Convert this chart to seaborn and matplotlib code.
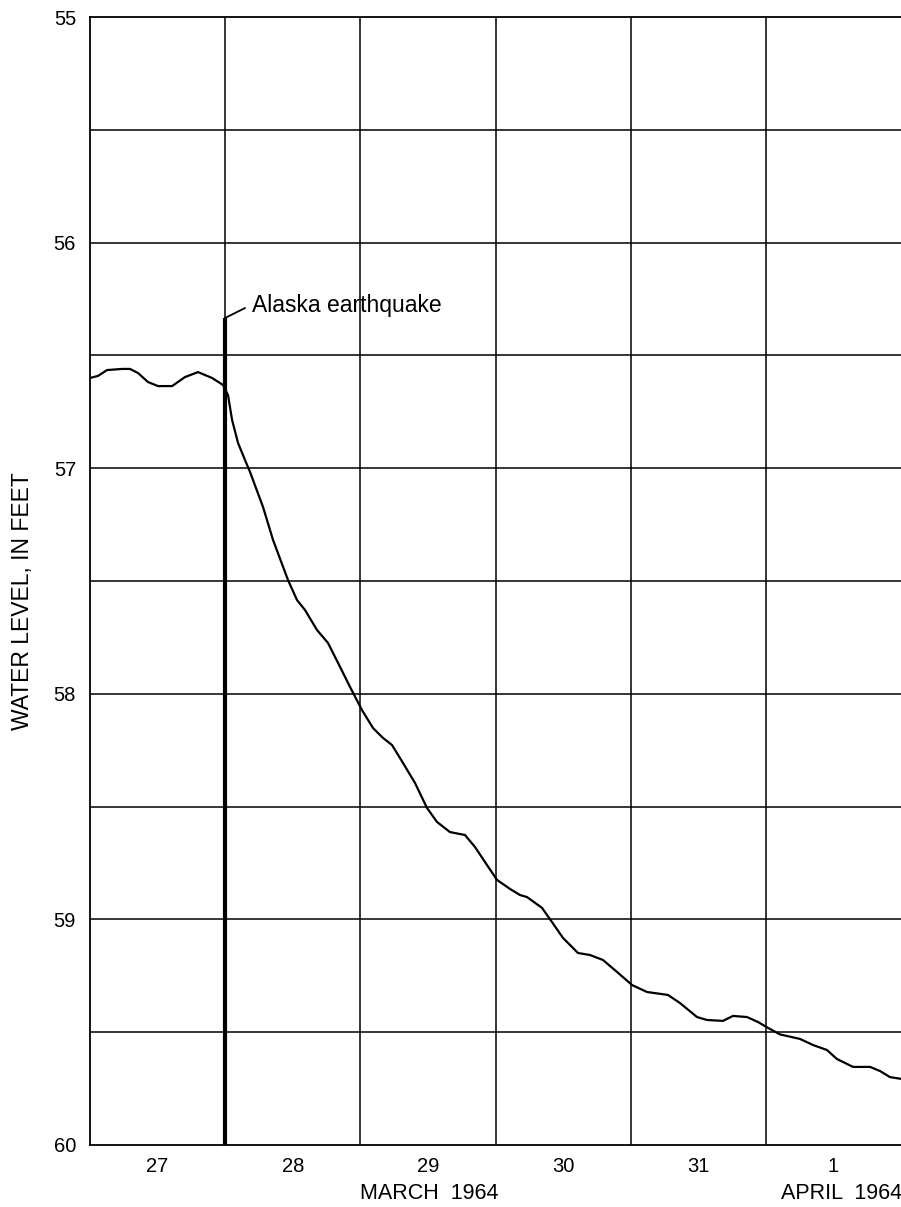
import matplotlib
matplotlib.use("Agg")
import matplotlib.pyplot as plt
import seaborn as sns
import pandas as pd
import numpy as np

# Hydrograph: elapsed time in days from 00h March 27, 1964; water level below datum, feet
days = [0.000, 0.059, 0.126, 0.237, 0.296, 0.355, 0.429, 0.503, 0.607, 0.703,
        0.799, 0.903, 0.984, 1.021, 1.051, 1.095, 1.147, 1.184, 1.280, 1.354,
        1.465, 1.531, 1.591, 1.679, 1.761, 1.850, 1.924, 2.012, 2.094, 2.168,
        2.234, 2.316, 2.404, 2.493, 2.567, 2.663, 2.774, 2.848, 2.937, 3.011,
        3.107, 3.181, 3.233, 3.344, 3.418, 3.499, 3.610, 3.699, 3.795, 3.899,
        4.010, 4.121, 4.276, 4.365, 4.491, 4.565, 4.683, 4.757, 4.861, 4.942,
        5.016, 5.105, 5.253, 5.349, 5.452, 5.526, 5.645, 5.771, 5.844, 5.918,
        6.000]
water_level = [56.600, 56.591, 56.565, 56.560, 56.560, 56.578, 56.618, 56.636, 56.636, 56.596,
               56.574, 56.600, 56.631, 56.676, 56.786, 56.888, 56.964, 57.017, 57.172, 57.318,
               57.496, 57.584, 57.629, 57.717, 57.775, 57.881, 57.970, 58.072, 58.152, 58.196,
               58.227, 58.307, 58.395, 58.506, 58.568, 58.613, 58.626, 58.679, 58.759, 58.825,
               58.865, 58.892, 58.901, 58.949, 59.012, 59.082, 59.149, 59.158, 59.180, 59.233,
               59.291, 59.322, 59.335, 59.371, 59.433, 59.446, 59.450, 59.428, 59.433, 59.455,
               59.481, 59.510, 59.530, 59.557, 59.579, 59.619, 59.654, 59.654, 59.672, 59.699,
               59.707]

day_labels = ["27", "28", "29", "30", "31", "1"]
level_ticks = [55, 56, 57, 58, 59, 60]
quake_day = 1.0
quake_top = 56.334

df = pd.DataFrame({"day": days, "level": water_level})

sns.set_theme(style="white")
plt.rcParams["font.family"] = ["Liberation Sans", "DejaVu Sans"]

fig = plt.figure(figsize=(9.01, 12.07), dpi=100)
ax = fig.add_axes([0.0999, 0.0514, 0.9001, 0.9345])

# grid: day boundaries and half-foot intervals
for d in range(1, 6):
    ax.axvline(d, color="black", lw=1.1, zorder=1)
for y in np.arange(55.5, 60.0, 0.5):
    ax.axhline(y, color="black", lw=1.1, zorder=1)

sns.lineplot(data=df, x="day", y="level", ax=ax, color="black", lw=1.6,
             zorder=3, legend=False)

# earthquake marker
ax.plot([quake_day, quake_day], [quake_top, 60], color="black", lw=3.0, zorder=4,
        solid_capstyle="butt")
ax.plot([quake_day, 1.147], [quake_top, 56.29], color="black", lw=1.3, zorder=4)
ax.text(1.195, 56.28, "Alaska earthquake", fontsize=16.5, va="center", ha="left",
        color="black")

ax.set_xlim(0, 6)
ax.set_ylim(60, 55)
ax.set_xticks([i + 0.5 for i in range(6)])
ax.set_xticklabels(day_labels, fontsize=14.5)
ax.set_yticks(level_ticks)
ax.set_yticklabels([str(v) for v in level_ticks], fontsize=14.5)
ax.tick_params(axis="both", length=0, colors="black")
ax.tick_params(axis="x", pad=9)
ax.tick_params(axis="y", pad=10)
ax.set_xlabel("")
ax.set_ylabel("WATER LEVEL, IN FEET", fontsize=16.5, color="black")
ax.yaxis.set_label_coords(-0.069, 0.482)

for side in ["left", "top", "bottom"]:
    ax.spines[side].set_color("black")
    ax.spines[side].set_linewidth(1.3)
ax.spines["right"].set_visible(False)

ax.text(2.51, -0.043, "MARCH  1964", transform=ax.get_xaxis_transform(),
        ha="center", va="center", fontsize=15.5, color="black")
ax.text(5.56, -0.043, "APRIL  1964", transform=ax.get_xaxis_transform(),
        ha="center", va="center", fontsize=15.5, color="black")

fig.savefig("out.png", dpi=100)
